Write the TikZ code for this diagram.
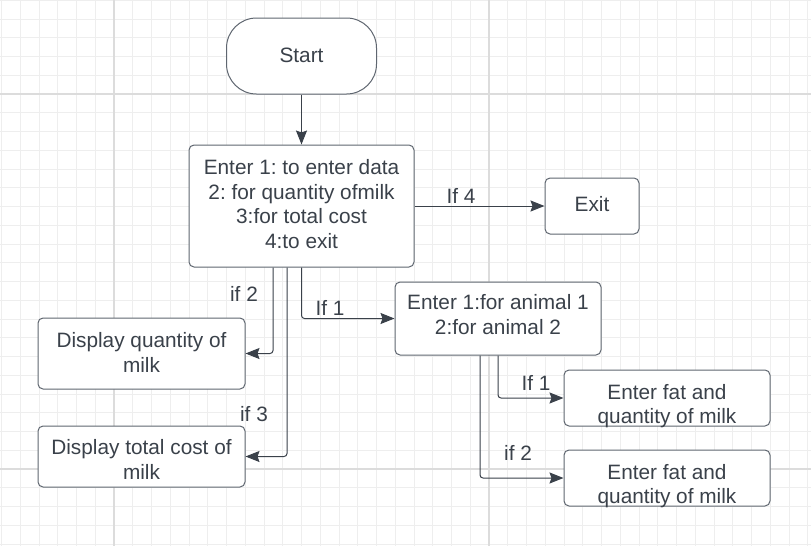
\documentclass[tikz,border=0pt]{standalone}
\usepackage{fontspec}
\setmainfont{Liberation Sans}
\usetikzlibrary{arrows.meta,calc}
\definecolor{ink}{HTML}{3A414A}
\definecolor{edge}{HTML}{5F6670}
\definecolor{gminor}{HTML}{EEEEEE}
\definecolor{gmajor}{HTML}{DCDCDC}
\frenchspacing
\begin{document}
\begin{tikzpicture}[x=1pt,y=-1pt,
  font=\fontsize{20.8}{24.5}\selectfont,
  box/.style={draw=edge, line width=1pt, rounded corners=5pt, fill=white, text=ink, align=center, inner sep=0pt},
  txt/.style={text=ink, align=center, inner sep=0pt},
  conn/.style={draw=ink, line width=1pt, rounded corners=3pt, -{Stealth[length=14pt,width=11pt,inset=2pt]}},
  lbl/.style={text=ink, inner sep=0pt}]
\fill[white] (0,0) rectangle (811,546);
\useasboundingbox (0,0) rectangle (811,546);
% grid
\foreach \i in {0,...,43} \draw[gminor, line width=1pt] ({1.5+18.75*\i},0) -- ++(0,546);
\foreach \j in {0,...,29} \draw[gminor, line width=1pt] (0,{0.25+18.75*\j}) -- ++(811,0);
\draw[gmajor, line width=1.5pt] (114,0) -- (114,546) (489,0) -- (489,546)
  (0,94) -- (811,94) (0,469) -- (811,469);
% nodes
\node[box, rounded corners=30pt, minimum width=150pt, minimum height=76pt] (start) at (301.5,56) {};
\node[txt] (startt) at ($(start.center)+(0,-1)$) {Start};
\node[box, minimum width=225pt, minimum height=122pt] (main) at (301.5,206) {};
\node[txt] (maint) at ($(main.center)+(0,-2)$)
  {Enter 1: to enter data\\2: for quantity ofmilk\\3:for total cost\\4:to exit};
\node[box, minimum width=94pt, minimum height=56pt] (exit) at (592,206) {};
\node[txt] (exitt) at ($(exit.center)+(0,-2)$) {Exit};
\node[box, minimum width=207pt, minimum height=71pt] (qty) at (141.5,353.5) {};
\node[txt] (qtyt) at ($(qty.center)+(0,-1)$) {Display quantity of\\milk};
\node[box, minimum width=207pt, minimum height=61pt] (cost) at (141.5,456.5) {};
\node[txt] (costt) at ($(cost.center)+(0,3)$) {Display total cost of\\milk};
\node[box, minimum width=206pt, minimum height=73pt] (animal) at (498,318.5) {};
\node[txt] (animalt) at ($(animal.center)+(0,-4)$) {Enter 1:for animal 1\\2:for animal 2};
\node[box, minimum width=206pt, minimum height=56pt] (fat1) at (667,398) {};
\node[txt] (fat1t) at ($(fat1.center)+(0,8)$) {Enter fat and\\quantity of milk};
\node[box, minimum width=206pt, minimum height=56pt] (fat2) at (667,478) {};
\node[txt] (fat2t) at ($(fat2.center)+(0,8)$) {Enter fat and\\quantity of milk};
% connectors
\draw[conn] (start) -- (main);
\draw[conn] (main) -- (exit);
\draw[conn] ($(main.south)+(-28.5,0)$) |- (qty.east);
\draw[conn] ($(main.south)+(-14.5,0)$) |- (cost.east);
\draw[conn] (main.south) |- (animal.west);
\draw[conn] (animal.south) |- (fat1.west);
\draw[conn] ($(animal.south)+(-18,0)$) |- (fat2.west);
% labels
\node[lbl] (l4) at (461,196) {If 4};
\node[lbl] (l2) at (244,294) {if 2};
\node[lbl] (l3) at (254,414) {if 3};
\node[lbl] (l1) at (330,308) {If 1};
\node[lbl] (la1) at (536,383) {If 1};
\node[lbl] (la2) at (518,453) {if 2};
\end{tikzpicture}
\end{document}
